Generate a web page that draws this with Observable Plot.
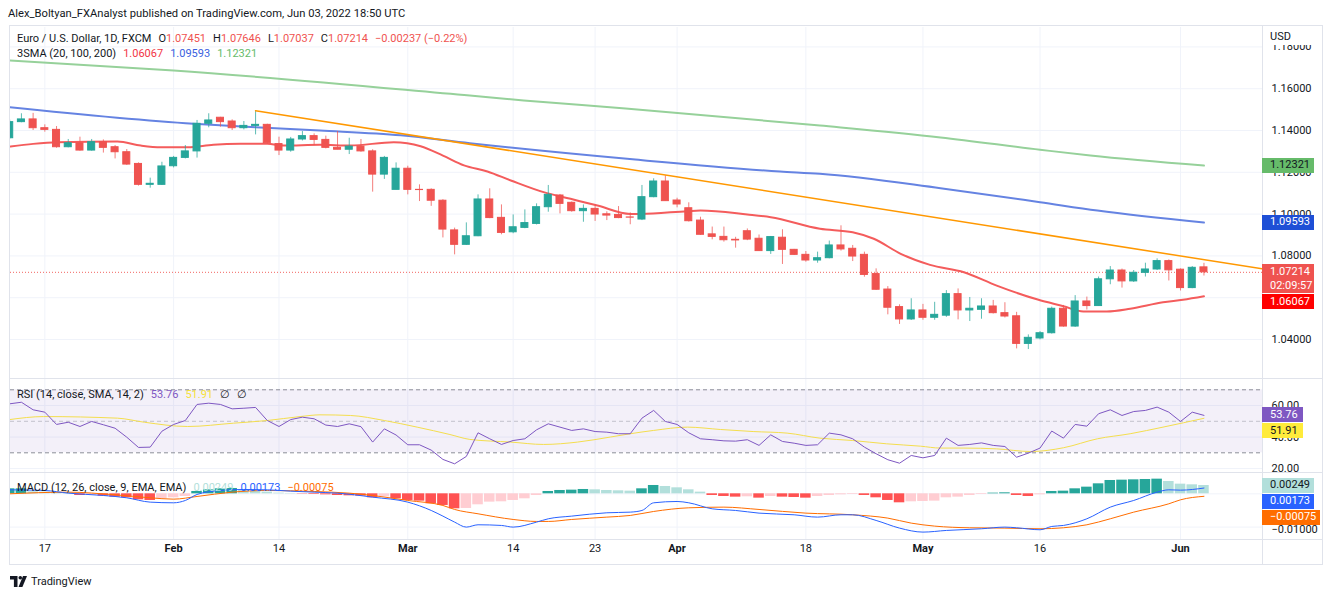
<!DOCTYPE html>
<html><head><meta charset="utf-8">
<script src="https://cdn.jsdelivr.net/npm/d3@7"></script>
<script src="https://cdn.jsdelivr.net/npm/@observablehq/plot@0.6"></script>
<style>
body{margin:0;background:#fff;font-family:Roboto,"Liberation Sans",sans-serif;color:#131722;}
#root{position:relative;width:1332px;height:597px;overflow:hidden;background:#fff;}
.abs{position:absolute;white-space:nowrap;}
.leg{position:absolute;white-space:nowrap;display:flex;gap:7px;font-size:11px;line-height:14px;}
.box{position:absolute;left:1262px;font-size:11px;line-height:15px;height:15px;padding-left:8px;box-sizing:border-box;white-space:nowrap;}
.hl{position:absolute;height:1px;background:#e0e3eb;}
.vl{position:absolute;width:1px;background:#e0e3eb;}
</style></head>
<body><div id="root"></div>
<script>
// ---------------- DATA ----------------
const dates = ["2022-01-12","2022-01-13","2022-01-14","2022-01-17","2022-01-18","2022-01-19","2022-01-20","2022-01-21","2022-01-24","2022-01-25",
"2022-01-26","2022-01-27","2022-01-28","2022-01-31","2022-02-01","2022-02-02","2022-02-03","2022-02-04","2022-02-07","2022-02-08",
"2022-02-09","2022-02-10","2022-02-11","2022-02-14","2022-02-15","2022-02-16","2022-02-17","2022-02-18","2022-02-21","2022-02-22",
"2022-02-23","2022-02-24","2022-02-25","2022-02-28","2022-03-01","2022-03-02","2022-03-03","2022-03-04","2022-03-07","2022-03-08",
"2022-03-09","2022-03-10","2022-03-11","2022-03-14","2022-03-15","2022-03-16","2022-03-17","2022-03-18","2022-03-21","2022-03-22",
"2022-03-23","2022-03-24","2022-03-25","2022-03-28","2022-03-29","2022-03-30","2022-03-31","2022-04-01","2022-04-04","2022-04-05",
"2022-04-06","2022-04-07","2022-04-08","2022-04-11","2022-04-12","2022-04-13","2022-04-14","2022-04-15","2022-04-18","2022-04-19",
"2022-04-20","2022-04-21","2022-04-22","2022-04-25","2022-04-26","2022-04-27","2022-04-28","2022-04-29","2022-05-02","2022-05-03",
"2022-05-04","2022-05-05","2022-05-06","2022-05-09","2022-05-10","2022-05-11","2022-05-12","2022-05-13","2022-05-16","2022-05-17",
"2022-05-18","2022-05-19","2022-05-20","2022-05-23","2022-05-24","2022-05-25","2022-05-26","2022-05-27","2022-05-30","2022-05-31",
"2022-06-01","2022-06-02","2022-06-03"];

const open = [1.1363,1.1440,1.1453,1.1411,1.1403,1.1320,1.1339,1.1304,1.1344,1.1320,
1.1296,1.1240,1.1140,1.1140,1.1229,1.1269,1.1300,1.1432,1.1461,1.1443,
1.1411,1.1422,1.1427,1.1335,1.1304,1.1357,1.1373,1.1355,1.1317,1.1308,
1.1323,1.1300,1.1189,1.1116,1.1217,1.1116,1.1116,1.1064,1.0922,1.0853,
1.0894,1.1070,1.0982,1.0913,1.0934,1.0953,1.1033,1.1089,1.1054,1.1014,
1.1025,1.0999,1.0996,1.0984,1.0974,1.1081,1.1156,1.1065,1.1028,1.0969,
1.0903,1.0891,1.0877,1.0918,1.0882,1.0823,1.0887,1.0829,1.0805,1.0778,
1.0789,1.0850,1.0834,1.0805,1.0713,1.0639,1.0555,1.0496,1.0539,1.0504,
1.0514,1.0617,1.0539,1.0542,1.0558,1.0526,1.0511,1.0379,1.0405,1.0430,
1.0547,1.0462,1.0582,1.0560,1.0688,1.0730,1.0678,1.0719,1.0735,1.0775,
1.0734,1.0646,1.07451];
const high = [1.1450,1.1480,1.1482,1.1427,1.1419,1.1357,1.1368,1.1357,1.1355,1.1328,
1.1309,1.1245,1.1172,1.1248,1.1276,1.1328,1.1448,1.1480,1.1463,1.1451,
1.1443,1.1495,1.1430,1.1368,1.1367,1.1395,1.1384,1.1373,1.1395,1.1363,
1.1357,1.1308,1.1276,1.1245,1.1229,1.1140,1.1121,1.1069,1.0933,1.0958,
1.1092,1.1121,1.1044,1.0996,1.1020,1.1049,1.1137,1.1094,1.1058,1.1044,
1.1044,1.1011,1.1036,1.1006,1.1137,1.1169,1.1184,1.1076,1.1054,1.0985,
1.0938,1.0938,1.0889,1.0929,1.0900,1.0893,1.0925,1.0831,1.0821,1.0818,
1.0871,1.0944,1.0850,1.0818,1.0738,1.0653,1.0566,1.0595,1.0568,1.0578,
1.0634,1.0642,1.0601,1.0595,1.0587,1.0576,1.0530,1.0422,1.0438,1.0555,
1.0563,1.0610,1.0603,1.0699,1.0749,1.0737,1.0730,1.0765,1.0786,1.0781,
1.0738,1.0749,1.07646];
const low = [1.1358,1.1437,1.1400,1.1392,1.1315,1.1317,1.1301,1.1301,1.1292,1.1264,
1.1233,1.1134,1.1124,1.1137,1.1221,1.1264,1.1268,1.1413,1.1416,1.1400,
1.1403,1.1379,1.1333,1.1280,1.1296,1.1350,1.1328,1.1312,1.1308,1.1285,
1.1296,1.1105,1.1166,1.1116,1.1092,1.1060,1.1037,1.0886,1.0805,1.0850,
1.0892,1.0978,1.0901,1.0906,1.0930,1.0948,1.1009,1.1001,1.1009,1.0961,
1.0965,1.0969,1.0978,1.0949,1.0969,1.1078,1.1062,1.1030,1.0962,1.0898,
1.0877,1.0866,1.0837,1.0873,1.0823,1.0807,1.0759,1.0802,1.0770,1.0765,
1.0786,1.0823,1.0773,1.0698,1.0635,1.0518,1.0472,1.0491,1.0492,1.0492,
1.0506,1.0494,1.0486,1.0497,1.0522,1.0503,1.0355,1.0352,1.0398,1.0426,
1.0459,1.0458,1.0541,1.0558,1.0662,1.0646,1.0673,1.0699,1.0730,1.0680,
1.0632,1.0643,1.07037];
const close = [1.1440,1.1453,1.1411,1.1403,1.1320,1.1339,1.1304,1.1344,1.1317,1.1296,
1.1237,1.1140,1.1145,1.1228,1.1269,1.1300,1.1432,1.1448,1.1440,1.1411,
1.1422,1.1427,1.1339,1.1304,1.1357,1.1373,1.1355,1.1317,1.1308,1.1323,
1.1300,1.1189,1.1269,1.1217,1.1116,1.1115,1.1064,1.0926,1.0853,1.0894,
1.1070,1.0981,1.0910,1.0937,1.0957,1.1033,1.1092,1.1049,1.1014,1.1025,
1.0998,1.0993,1.0981,1.0983,1.1081,1.1156,1.1062,1.1046,1.0966,1.0901,
1.0891,1.0875,1.0874,1.0878,1.0823,1.0890,1.0829,1.0805,1.0778,1.0789,
1.0850,1.0831,1.0797,1.0709,1.0638,1.0552,1.0496,1.0539,1.0504,1.0518,
1.0617,1.0539,1.0547,1.0558,1.0526,1.0510,1.0379,1.0408,1.0430,1.0547,
1.0462,1.0582,1.0560,1.0688,1.0730,1.0678,1.0719,1.0735,1.0775,1.0731,
1.0646,1.0743,1.07214];

// moving averages read at points along each curve (bar index, value)
const sma20Idx = [0.07,2.0,4.1,9.2,11.2,12.9,15.2,17.4,19.7,22,23.4,26.5,29.1,32.8,35.1,37.0,38.8,40.8,42.8,45.6,47.9,50.2,53.0,53.9,57.9,59.0,63.0,65.0,69.2,72.0,73.8,76.1,78.6,81.5,84.3,87.8,90.0,91.7,93.7,95.7,98.5,100.2,102];
const sma20Val = [1.1323,1.1336,1.1344,1.1347,1.1328,1.1320,1.1320,1.1332,1.1336,1.1336,1.1328,1.1332,1.1328,1.1344,1.1325,1.1280,1.1233,1.1204,1.1161,1.1105,1.1073,1.1041,1.1001,1.1001,1.1014,1.1017,1.0998,1.0985,1.0930,1.0913,1.0882,1.0810,1.0757,1.0722,1.0658,1.0591,1.0559,1.0534,1.0534,1.0547,1.0578,1.0590,1.06067];
const sma100Idx = [0,15.7,21,26.5,33.4,39.3,53.2,65.8,69.2,79.5,88,92.9,102];
const sma100Val = [1.1511,1.1432,1.1416,1.1400,1.1377,1.1339,1.1262,1.1204,1.1193,1.1124,1.1057,1.1017,1.09593];
const sma200Idx = [0,14,39.3,43.9,52.6,69.2,79.5,88,92.3,102];
const sma200Val = [1.1735,1.1687,1.1567,1.1544,1.1505,1.1424,1.1367,1.1308,1.1280,1.12321];
const trendIdx = [21, 107];
const trendVal = [1.1495, 1.0738];

const rsi = [61.1,62.1,57.3,55.8,48.0,49.4,46.7,49.9,47.8,45.6,
39.9,33.4,33.6,43.7,48.0,50.5,60.7,61.5,60.7,57.9,
58.3,58.8,50.5,46.7,51.1,52.6,51.6,47.6,46.7,48.4,
46.6,36.8,45.2,41.3,35.1,35.1,31.7,25.8,23.0,27.7,
42.7,38.9,35.3,37.8,38.9,44.6,48.4,46.3,44.2,45.2,
43.5,43.1,42.1,42.1,52.0,56.9,49.9,48.0,42.7,38.9,
38.3,37.6,37.4,38.3,34.7,41.4,37.2,36.1,34.7,35.1,
42.5,41.4,38.9,33.6,29.4,25.6,23.4,28.3,26.8,28.3,
39.3,34.7,35.3,36.3,34.7,34.0,27.2,29.8,33.0,43.8,
39.3,48.0,46.9,54.8,57.3,53.7,56.2,56.9,59.0,55.8,
49.9,55.8,53.76];
const rsiSmaIdx = [0,2.9,9.2,11.5,15.2,19.1,22,24.8,26.5,29.1,32,34.8,37.6,39.3,42.8,45.6,48.5,51.3,53,55,57.9,60.7,63.5,66.4,69.2,72,74.9,77.8,79.5,81.5,84.3,87.2,90,92.9,95.7,98.5,102];
const rsiSmaVal = [51.1,53.0,52.0,49.4,46.7,48.8,50.5,53.0,54.1,53.7,50.5,46.3,41.6,38.5,36.8,35.3,36.8,40.0,42.1,44.2,46.3,44.8,43.5,42.5,39.3,37.8,35.7,34.2,33.0,33.0,32.5,30.8,33.2,38.9,42.1,46.3,51.91];
const rsiBand = [30, 70];
const rsiMid = [50];

const macdHist = [0.0015,0.0015,0.0006,0.0005,0.0004,0.0003,-0.0005,-0.0005,-0.0007,-0.0010,
-0.0012,-0.0018,-0.0020,-0.0015,-0.0012,-0.0008,0.0007,0.0012,0.0015,0.0016,
0.0012,0.0010,0.0005,0.0002,0.0001,-0.0001,-0.0002,-0.0003,-0.0005,-0.0006,
-0.0007,-0.0012,-0.0009,-0.0015,-0.0020,-0.0022,-0.0030,-0.0035,-0.0045,-0.0044,
-0.0033,-0.0025,-0.0024,-0.0020,-0.0015,-0.0005,0.0007,0.0010,0.0011,0.0013,
0.0012,0.0010,0.0009,0.0008,0.0015,0.0025,0.0022,0.0018,0.0012,0.0005,
-0.0005,-0.0008,-0.0010,-0.0009,-0.0013,-0.0008,-0.0010,-0.0011,-0.0013,-0.0008,
-0.0005,-0.0003,-0.0002,-0.0005,-0.0012,-0.0020,-0.0027,-0.0024,-0.0023,-0.0022,
-0.0012,-0.0010,-0.0005,-0.0002,0.0002,0.0003,-0.0005,-0.0008,-0.0003,0.0007,
0.0008,0.0015,0.0020,0.0030,0.0040,0.0041,0.0042,0.0043,0.0044,0.0037,
0.0029,0.0027,0.00249];
const macdIdx = [0,3,5,8,10,12,14,15,16,18,20,22,24,26,28,31,34,36,37,38,39,40,42,43,45,46,48,51,53,54,55,57,58,60,62,64,67,69,71,72,74,76,78,80,83,85,86,88,89,90,92,94,96,98,99,100,102];
const macdVal = [0.0012,0.0010,0.0002,-0.0005,-0.0012,-0.0025,-0.0027,-0.0020,-0.0002,0.0010,0.0013,0.0012,0.0008,0.0005,0.0002,-0.0010,-0.0025,-0.0050,-0.0067,-0.0085,-0.0100,-0.0093,-0.0095,-0.0100,-0.0085,-0.0075,-0.0067,-0.0057,-0.0055,-0.0050,-0.0027,-0.0023,-0.0027,-0.0045,-0.0050,-0.0058,-0.0063,-0.0070,-0.0063,-0.0063,-0.0080,-0.0103,-0.0115,-0.0110,-0.0105,-0.0100,-0.0102,-0.0108,-0.0098,-0.0095,-0.0075,-0.0040,-0.0020,0.0005,0.0012,0.0011,0.00173];
const signalIdx = [0,5,9,12,14,16,19,22,26,29,31,34,37,38,40,43,45,46,48,51,53,55,58,61,64,68,72,75,77,79,82,85,88,90,92,94,96,99,100,102];
const signalVal = [0.0000,0.0005,-0.0003,-0.0012,-0.0016,-0.0008,0.0005,0.0010,0.0007,0.0002,-0.0005,-0.0020,-0.0035,-0.0047,-0.0060,-0.0077,-0.0083,-0.0083,-0.0077,-0.0070,-0.0065,-0.0053,-0.0042,-0.0040,-0.0047,-0.0058,-0.0063,-0.0073,-0.0088,-0.0097,-0.0102,-0.0103,-0.0105,-0.0102,-0.0093,-0.0075,-0.0055,-0.0030,-0.0018,-0.00075];

const priceTicks = [1.04,1.06,1.08,1.10,1.12,1.14,1.16,1.18];
const priceLabelTicks = [1.04,1.08,1.10,1.12,1.14,1.16,1.18];   // 1.06000 sits fully behind the SMA(20) tag
const rsiTicks = [20,40,60];
const macdTicks = [-0.01];
const macdGrid = [0, -0.01];
const tickDates = ["2022-01-17","2022-02-01","2022-02-14","2022-03-01","2022-03-14","2022-03-23","2022-04-01","2022-04-18","2022-05-02","2022-05-16","2022-06-01"];
const tickLabels = ["17","Feb","14","Mar","14","23","Apr","18","May","16","Jun"];

// ---------------- BUILD ----------------
const root = document.getElementById("root");
const UP = "#26a69a", DOWN = "#ef5350", GRID = "#f0f3fa";
const N = dates.length;
const candles = dates.map((d, i) => ({i, o: open[i], h: high[i], l: low[i], c: close[i]}));
const pts = (ix, vs) => ix.map((i, k) => ({i, v: vs[k]}));
const tickIdx = tickDates.map(d => dates.indexOf(d));
const ticks = tickIdx.map((i, k) => ({i, label: tickLabels[k], month: isNaN(+tickLabels[k])}));
const hist = macdHist.map((v, i) => ({i, v, prev: i ? macdHist[i - 1] : v}));
const histColor = d => d.v >= 0 ? (d.v >= d.prev ? "#26a69a" : "#b2dfdb") : (d.v < d.prev ? "#ff5252" : "#ffcdd2");

const X0 = 0.068, X1 = 107.0;
const common = {
  width: 1322, marginLeft: 10, marginRight: 60,
  x: {domain: [X0, X1], axis: null},
  color: {type: "identity"},
  style: {fontFamily: "Roboto, sans-serif", fontSize: "11px", color: "#131722", background: "transparent", overflow: "visible"}
};
function place(svg, top) { svg.style.position = "absolute"; svg.style.left = "0px"; svg.style.top = top + "px"; svg.style.overflow = "visible"; root.appendChild(svg); }
const fmt5 = d3.format(".5f");

// main pane
const MAIN_TOP = 27;
const main = Plot.plot({...common, height: 351, marginTop: 0, marginBottom: 0,
  y: {domain: [1.02134, 1.18928], axis: null},
  marks: [
    Plot.ruleY(priceTicks, {stroke: GRID}),
    Plot.ruleX(tickIdx, {stroke: GRID}),
    Plot.ruleY([close[N - 1]], {stroke: DOWN, strokeDasharray: "1,2", strokeOpacity: 0.9}),
    Plot.line(pts(sma200Idx, sma200Val), {x: "i", y: "v", stroke: "#96d19a", strokeWidth: 2, curve: "monotone-x", clip: true}),
    Plot.line(pts(sma100Idx, sma100Val), {x: "i", y: "v", stroke: "#6583e2", strokeWidth: 2, curve: "monotone-x", clip: true}),
    Plot.line(pts(sma20Idx, sma20Val), {x: "i", y: "v", stroke: "#f45c5c", strokeWidth: 2, curve: "monotone-x", clip: true}),
    Plot.ruleX(candles, {x: "i", y1: "l", y2: "h", stroke: d => d.c >= d.o ? UP : DOWN, strokeOpacity: 0.75, clip: true}),
    Plot.rect(candles, {x1: d => d.i - 0.3, x2: d => d.i + 0.3, y1: "o", y2: "c", fill: d => d.c >= d.o ? UP : DOWN, stroke: d => d.c >= d.o ? UP : DOWN, strokeWidth: 1, clip: true}),
    Plot.line(pts(trendIdx, trendVal), {x: "i", y: "v", stroke: "#ff9800", strokeWidth: 1.5, clip: true}),
    Plot.axisY({anchor: "right", ticks: priceLabelTicks, tickSize: 0, tickPadding: 9, tickFormat: fmt5, label: null})
  ]});
place(main, MAIN_TOP);

// RSI pane
const RSI_TOP = 378;
const rsiPlot = Plot.plot({...common, height: 95, marginTop: 0, marginBottom: 0,
  y: {domain: [16.86, 77.17], axis: null},
  marks: [
    Plot.ruleY(rsiTicks, {stroke: GRID}),
    Plot.ruleX(tickIdx, {stroke: GRID}),
    Plot.rect([rsiBand], {y1: d => d[0], y2: d => d[1], fill: "#7e57c2", fillOpacity: 0.09}),
    Plot.ruleY(rsiBand, {stroke: "#787b86", strokeDasharray: "4,3", strokeOpacity: 0.85}),
    Plot.ruleY(rsiMid, {stroke: "#787b86", strokeDasharray: "4,3", strokeOpacity: 0.4}),
    Plot.line(pts(rsiSmaIdx, rsiSmaVal), {x: "i", y: "v", stroke: "#f3de4e", strokeWidth: 1, curve: "monotone-x", clip: true}),
    Plot.line(rsi.map((v, i) => ({i, v})), {x: "i", y: "v", stroke: "#7e57c2", strokeWidth: 1, clip: true}),
    Plot.axisY({anchor: "right", ticks: rsiTicks, tickSize: 0, tickPadding: 9, tickFormat: d3.format(".2f"), label: null})
  ]});
place(rsiPlot, RSI_TOP);

// MACD pane + time axis
const MACD_TOP = 473;
const macdPlot = Plot.plot({...common, height: 91, marginTop: 0, marginBottom: 25,
  y: {domain: [-0.01372, 0.0061], axis: null},
  marks: [
    Plot.ruleY(macdGrid, {stroke: GRID}),
    Plot.ruleX(tickIdx, {stroke: GRID}),
    Plot.rect(hist, {x1: d => d.i - 0.45, x2: d => d.i + 0.45, y1: () => 0, y2: "v", fill: histColor, clip: true}),
    Plot.line(pts(signalIdx, signalVal), {x: "i", y: "v", stroke: "#ff6d00", strokeWidth: 1, curve: "monotone-x", clip: true}),
    Plot.line(pts(macdIdx, macdVal), {x: "i", y: "v", stroke: "#2962ff", strokeWidth: 1, curve: "monotone-x", clip: true}),
    Plot.axisY({anchor: "right", ticks: macdTicks, tickSize: 0, tickPadding: 9, tickFormat: fmt5, label: null, dy: 2}),
    Plot.text(ticks.filter(t => t.month), {x: "i", text: "label", frameAnchor: "bottom", dy: 12, fontWeight: "bold", fill: "#131722"}),
    Plot.text(ticks.filter(t => !t.month), {x: "i", text: "label", frameAnchor: "bottom", dy: 12, fill: "#131722"})
  ]});
place(macdPlot, MACD_TOP);

// ---------------- chrome ----------------
function div(cls, css, html) { const e = document.createElement("div"); e.className = cls; e.style.cssText = css; if (html != null) e.innerHTML = html; root.appendChild(e); return e; }
div("hl", "left:9px;top:25px;width:1314px;");
div("hl", "left:9px;top:378px;width:1314px;");
div("hl", "left:9px;top:472px;width:1314px;");
div("hl", "left:9px;top:539px;width:1314px;");
div("hl", "left:9px;top:564px;width:1314px;");
div("vl", "left:9px;top:25px;height:540px;");
div("vl", "left:1262px;top:25px;height:540px;");
div("vl", "left:1322px;top:25px;height:540px;");

div("abs", "left:8px;top:7px;font-size:11.2px;line-height:14px;color:#131722;", "Alex_Boltyan_FXAnalyst published on TradingView.com, Jun 03, 2022 18:50 UTC");
div("abs", "left:1263px;top:26px;width:58px;height:19px;background:#fff;font-size:11px;line-height:22px;padding-left:7px;box-sizing:border-box;", "USD");

const R = "#ef5350";
div("leg", "left:17px;top:32px;gap:7px;",
  `<span>Euro / U.S. Dollar, 1D, FXCM</span>
   <span>O<span style="color:${R}">1.07451</span></span>
   <span>H<span style="color:${R}">1.07646</span></span>
   <span>L<span style="color:${R}">1.07037</span></span>
   <span>C<span style="color:${R}">1.07214</span></span>
   <span style="color:${R}">−0.00237 (−0.22%)</span>`);
div("leg", "left:17px;top:47px;",
  `<span>3SMA (20, 100, 200)</span>
   <span style="color:#f23645">1.06067</span>
   <span style="color:#3a5fe0">1.09593</span>
   <span style="color:#66bb6a">1.12321</span>`);
div("leg", "left:17px;top:388px;",
  `<span>RSI (14, close, SMA, 14, 2)</span>
   <span style="color:#7e57c2">53.76</span>
   <span style="color:#f5e13c">51.91</span>
   <span>∅</span><span>∅</span>`);
div("leg", "left:17px;top:481px;",
  `<span>MACD (12, 26, close, 9, EMA, EMA)</span>
   <span style="color:#b2dfdb">0.00249</span>
   <span style="color:#2962ff">0.00173</span>
   <span style="color:#ff6d00">−0.00075</span>`);

// value tags on the right, placed through each pane's y scale
function boxes(plot, top, items) {
  const ys = plot.scale("y");
  let prevBottom = -Infinity;
  for (const it of items) {
    const h = it.lines.length * 14 + 1;
    let t = top + ys.apply(it.v) - 7.5;
    if (t < prevBottom + 1) t = prevBottom + 1;
    div("box", `top:${t}px;height:${h}px;width:${it.w || 52}px;background:${it.bg};color:${it.fg};line-height:14px;padding-top:0.5px;`, it.lines.join("<br>"));
    prevBottom = t + h;
  }
}
boxes(main, MAIN_TOP, [
  {v: sma200Val[sma200Val.length - 1], lines: [fmt5(sma200Val[sma200Val.length - 1])], bg: "#66bb6a", fg: "#131722"},
  {v: sma100Val[sma100Val.length - 1], lines: [fmt5(sma100Val[sma100Val.length - 1])], bg: "#1e4fd6", fg: "#fff"},
  {v: close[N - 1], lines: [fmt5(close[N - 1]), "02:09:57"], bg: "#ef5350", fg: "#fff"},
  {v: sma20Val[sma20Val.length - 1], lines: [fmt5(sma20Val[sma20Val.length - 1])], bg: "#ff0000", fg: "#fff"}
]);
boxes(rsiPlot, RSI_TOP, [
  {v: rsi[N - 1], lines: [d3.format(".2f")(rsi[N - 1])], bg: "#7e57c2", fg: "#fff", w: 41},
  {v: rsiSmaVal[rsiSmaVal.length - 1], lines: [d3.format(".2f")(rsiSmaVal[rsiSmaVal.length - 1])], bg: "#ffeb3b", fg: "#131722", w: 41}
]);
boxes(macdPlot, MACD_TOP, [
  {v: macdHist[N - 1], lines: [fmt5(macdHist[N - 1])], bg: "#b2dfdb", fg: "#131722"},
  {v: macdVal[macdVal.length - 1], lines: [fmt5(macdVal[macdVal.length - 1])], bg: "#2962ff", fg: "#fff"},
  {v: signalVal[signalVal.length - 1], lines: [fmt5(signalVal[signalVal.length - 1])], bg: "#ff6d00", fg: "#fff", w: 58}
]);

div("abs", "left:10px;top:574px;height:14px;display:flex;align-items:center;gap:4px;font-size:11px;color:#131722;",
  `<svg width="17" height="11" viewBox="0 0 17 11"><path d="M0 0h7.5v11h-3.6V3.4H0z" fill="#131722"/><circle cx="10.3" cy="1.8" r="1.8" fill="#131722"/><path d="M13 0h4l-4.6 11H8.5z" fill="#131722"/></svg><span>TradingView</span>`);
</script>
</body></html>
